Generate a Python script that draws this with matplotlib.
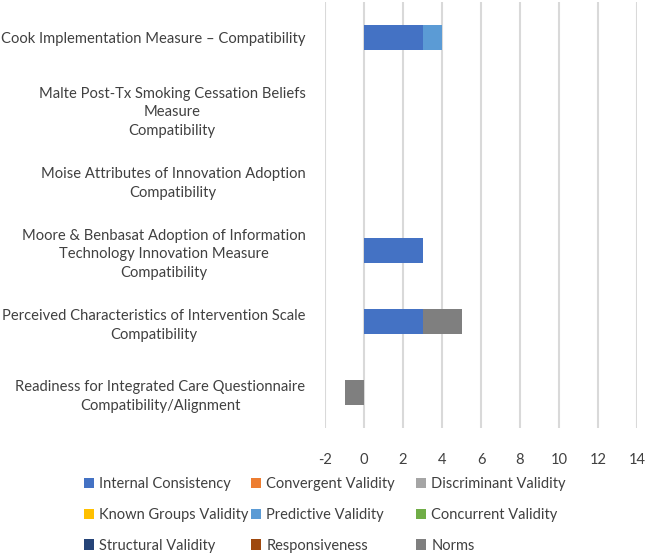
import matplotlib
matplotlib.use("Agg")
import matplotlib.pyplot as plt
from matplotlib.patches import Patch
import numpy as np

plt.rcParams['font.family'] = ['Lato', 'DejaVu Sans']

categories = [
    "Cook Implementation Measure \u2013 Compatibility",
    "Malte Post-Tx Smoking Cessation Beliefs\nMeasure\nCompatibility",
    "Moise Attributes of Innovation Adoption\nCompatibility",
    "Moore & Benbasat Adoption of Information\nTechnology Innovation Measure\nCompatibility",
    "Perceived Characteristics of Intervention Scale\nCompatibility",
    "Readiness for Integrated Care Questionnaire\nCompatibility/Alignment",
]

series_names = ["Internal Consistency", "Convergent Validity", "Discriminant Validity",
                "Known Groups Validity", "Predictive Validity", "Concurrent Validity",
                "Structural Validity", "Responsiveness", "Norms"]

internal_consistency = [3, 0, 0, 3, 3, 0]
convergent_validity = [0, 0, 0, 0, 0, 0]
discriminant_validity = [0, 0, 0, 0, 0, 0]
known_groups_validity = [0, 0, 0, 0, 0, 0]
predictive_validity = [1, 0, 0, 0, 0, 0]
concurrent_validity = [0, 0, 0, 0, 0, 0]
structural_validity = [0, 0, 0, 0, 0, 0]
responsiveness = [0, 0, 0, 0, 0, 0]
norms = [0, 0, 0, 0, 2, -1]

series_values = [internal_consistency, convergent_validity, discriminant_validity,
                 known_groups_validity, predictive_validity, concurrent_validity,
                 structural_validity, responsiveness, norms]

colors = ["#4472C4", "#ED7D31", "#A5A5A5", "#FFC000", "#5B9BD5", "#70AD47",
          "#264478", "#9E480E", "#7F7F7F"]

xticks = [-2, 0, 2, 4, 6, 8, 10, 12, 14]

fig = plt.figure(figsize=(6.48, 5.53), dpi=100)
ax = fig.add_axes([325/648, 1-428/553, (637-325)/648, (428-2)/553])

y = np.arange(len(categories))
pos_left = np.zeros(len(categories))
neg_left = np.zeros(len(categories))
for vals, col in zip(series_values, colors):
    v = np.array(vals, dtype=float)
    left = np.where(v >= 0, pos_left, neg_left)
    ax.barh(y, v, left=left, height=0.35, color=col, zorder=3)
    pos_left += np.where(v > 0, v, 0)
    neg_left += np.where(v < 0, v, 0)

ax.set_xlim(-2, 14)
ax.set_ylim(len(categories) - 0.5, -0.5)
ax.set_xticks(xticks)
ax.set_xticklabels([str(t) for t in xticks])
ax.set_yticks(y)
ax.set_yticklabels(categories)
for lbl in ax.get_yticklabels():
    lbl.set_multialignment('center')
    lbl.set_linespacing(1.45)
ax.tick_params(axis='both', length=0, labelsize=10.6, colors='#404040')
ax.tick_params(axis='y', pad=14)
ax.tick_params(axis='x', pad=18)
ax.grid(axis='x', color='#D9D9D9', linewidth=1.5, zorder=0)
for s in ax.spines.values():
    s.set_visible(False)

handles = [Patch(facecolor=c, edgecolor='none') for c in colors]
col_x = [84, 251, 416]
for ci in range(3):
    idx = [ci, ci + 3, ci + 6]
    leg = fig.legend([handles[i] for i in idx], [series_names[i] for i in idx],
                     loc='upper left', bbox_to_anchor=(col_x[ci]/648, 1-477/553),
                     ncol=1, frameon=False, fontsize=10.5, handlelength=0.7,
                     handleheight=0.7, handletextpad=0.35, labelspacing=1.15,
                     borderpad=0, borderaxespad=0, labelcolor='#404040')

fig.savefig("out.png", dpi=100)
